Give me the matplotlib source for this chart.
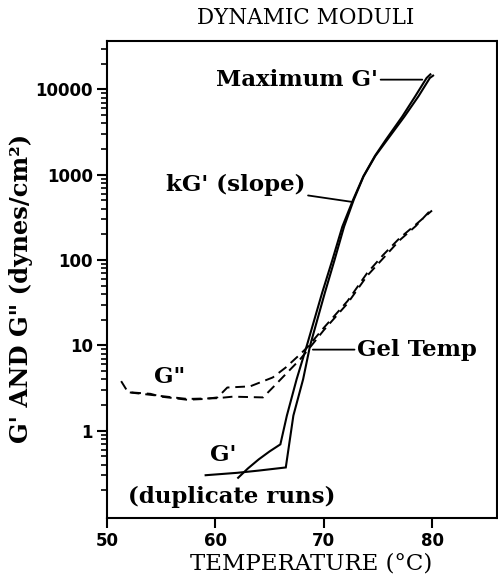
import matplotlib
import matplotlib.pyplot as plt

matplotlib.use("Agg")

# G' duplicate runs (temperature in C, modulus in dynes/cm^2)
gp_a_temp = [62.1, 63.0, 64.0, 65.0, 66.0, 66.6, 67.5, 68.45, 69.85, 70.8, 71.72, 72.72,
             73.66, 74.73, 75.75, 77.25, 78.45, 79.5, 79.85]
gp_a_mod = [0.28, 0.36, 0.46, 0.57, 0.69, 1.5, 4.0, 10, 41, 100, 246, 510,
            955, 1660, 2580, 4800, 8300, 13600, 15000]
gp_b_temp = [59.1, 62.0, 64.0, 66.5, 67.2, 68.1, 68.75, 70.1, 71.0, 71.88, 72.78, 73.68,
             74.77, 75.88, 77.45, 78.75, 79.8, 80.1]
gp_b_mod = [0.30, 0.32, 0.34, 0.37, 1.5, 4.0, 10, 41, 100, 246, 510, 955,
            1660, 2580, 4800, 8300, 13600, 14500]

# G'' duplicate runs
gpp_a_temp = [51.3, 51.8, 52.3, 54.0, 55.0, 57.4, 59.0, 60.2, 61.1, 63.2, 65.3, 66.5, 67.8,
              68.5, 70.0, 72.2, 74.0, 75.5, 77.0, 78.5, 80.0]
gpp_a_mod = [3.8, 3.0, 2.8, 2.7, 2.5, 2.3, 2.35, 2.45, 3.2, 3.3, 4.2, 5.5, 7.8,
             9.5, 16, 33, 70, 115, 180, 260, 380]
gpp_b_temp = [52.1, 54.9, 57.4, 60.2, 61.6, 64.4, 65.3, 66.5, 67.8, 68.6, 70.0, 72.2,
              74.0, 75.5, 77.0, 78.5, 80.0]
gpp_b_mod = [2.8, 2.55, 2.35, 2.4, 2.5, 2.45, 3.2, 4.6, 6.8, 9.0, 15, 31,
             65, 105, 170, 250, 400]

x_ticks = [50, 60, 70, 80]
y_ticks = [1, 10, 100, 1000, 10000]
y_tick_labels = ["1", "10", "100", "1000", "10000"]

serif = ["DejaVu Serif"]
sans = ["DejaVu Sans"]

fig = plt.figure(figsize=(4.98, 5.76), dpi=100)
ax = fig.add_axes([0.215, 0.101, 0.783, 0.828])

for t, m in [(gp_a_temp, gp_a_mod), (gp_b_temp, gp_b_mod)]:
    ax.plot(t, m, color="black", linewidth=1.5, solid_joinstyle="miter")
for t, m in [(gpp_a_temp, gpp_a_mod), (gpp_b_temp, gpp_b_mod)]:
    ax.plot(t, m, color="black", linewidth=1.4, linestyle=(0, (5, 3)))

ax.set_yscale("log")
ax.set_xlim(50, 86.0)
ax.set_ylim(0.095, 37000)
ax.set_xticks(x_ticks)
ax.set_yticks(y_ticks)
ax.set_yticklabels(y_tick_labels)
ax.tick_params(which="major", direction="out", length=7, width=1.5, pad=3)
ax.tick_params(which="minor", direction="out", length=4, width=1.2)
ax.tick_params(axis="x", which="minor", length=0)
for lbl in ax.get_xticklabels() + ax.get_yticklabels():
    lbl.set_family(sans)
    lbl.set_fontsize(12)
    lbl.set_fontweight("bold")
for s in ax.spines.values():
    s.set_linewidth(1.5)

txt = dict(family=serif, fontsize=16.5, fontweight="bold")
line = dict(arrowstyle="-", color="black", linewidth=1.3, shrinkA=0, shrinkB=0)

ax.annotate("Maximum G'", xy=(79.1, 13000), xytext=(75.0, 13000),
            ha="right", va="center", arrowprops=line, **txt)
ax.annotate("kG' (slope)", xy=(72.6, 480), xytext=(68.3, 760),
            ha="right", va="center", arrowprops=line, **txt)
ax.annotate("Gel Temp", xy=(69.0, 8.9), xytext=(73.1, 8.9),
            ha="left", va="center", arrowprops=line, **txt)
ax.text(55.8, 4.2, 'G"', ha="center", va="center", **txt)
ax.text(60.7, 0.52, "G'", ha="center", va="center", **txt)
ax.text(51.95, 0.168, "(duplicate runs)", ha="left", va="center", **txt)

fig.text(0.614, 0.968, "DYNAMIC MODULI", ha="center", va="center",
         family=serif, fontsize=15.5)
fig.text(0.624, 0.022, "TEMPERATURE (°C)", ha="center", va="center",
         family=serif, fontsize=16.5)
fig.text(0.042, 0.50, "G' AND G\" (dynes/cm²)", ha="center", va="center",
         rotation=90, family=serif, fontsize=17.5, fontweight="bold")

fig.savefig("out.png", dpi=100)
